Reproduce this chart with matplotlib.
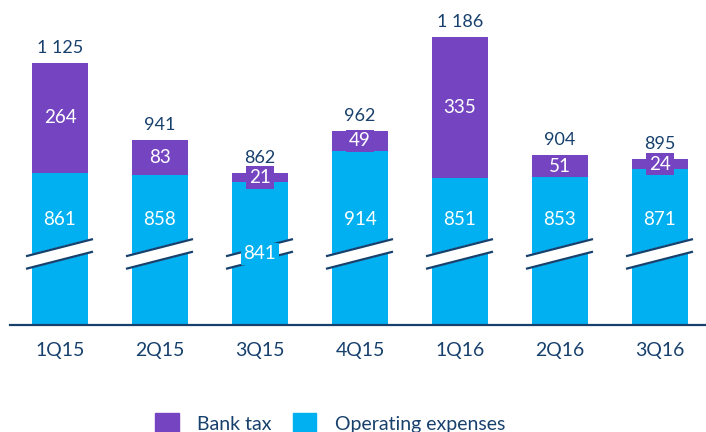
import matplotlib.pyplot as plt
import matplotlib.patches as mpatches
import numpy as np

# quarterly costs, stacked: operating expenses + bank tax
quarters = ["1Q15", "2Q15", "3Q15", "4Q15", "1Q16", "2Q16", "3Q16"]
opex = [861, 858, 841, 914, 851, 853, 871]
bank_tax = [264, 83, 21, 49, 335, 51, 24]
totals = [1125, 941, 862, 962, 1186, 904, 895]

purple = "#7545C1"
cyan = "#00B0F0"
navy = "#17406D"

plt.rcParams["font.family"] = ["Lato", "DejaVu Sans"]

fig = plt.figure(figsize=(7.06, 4.32), dpi=100)
ax = fig.add_axes([0, 107 / 432, 1, 325 / 432])

x = np.arange(len(quarters))
w = 0.56
ax.bar(x, opex, w, color=cyan, zorder=2)
ax.bar(x, bank_tax, w, bottom=opex, color=purple, zorder=2)

# axis is cut (starts at 500), break marks drawn on each bar
y0 = 500
ax.set_xlim(-0.6, 6.46)
ax.set_ylim(y0, y0 + 325 / 0.42)

brk_y, brk_gap, brk_slope = 669.5, 30, 61
for i in x:
    xs = np.array([i - 0.34, i + 0.33])
    up = brk_y + brk_gap / 2 + brk_slope * (xs - i)
    lo = brk_y - brk_gap / 2 + brk_slope * (xs - i)
    ax.fill([xs[0], xs[1], xs[1], xs[0]], [up[0], up[1], lo[1], lo[0]],
            color="white", zorder=3, clip_on=False)
    ax.plot(xs, up, color=navy, lw=1.6, zorder=4, solid_capstyle="butt")
    ax.plot(xs, lo, color=navy, lw=1.6, zorder=4, solid_capstyle="butt")

op_label_y = 750
for i in x:
    # opex label; when too close to the top it sits on the break
    ly = op_label_y if opex[i] - op_label_y > 95 else brk_y
    ax.text(i, ly, str(opex[i]), ha="center", va="center", color="white",
            fontsize=13.5, zorder=6,
            bbox=dict(boxstyle="square,pad=0.12", fc=cyan, ec="none"))
    ax.text(i, opex[i] + bank_tax[i] / 2, str(bank_tax[i]), ha="center",
            va="center", color="white", fontsize=13.5, zorder=6,
            bbox=dict(boxstyle="square,pad=0.15", fc=purple, ec="none"))
    ax.annotate(f"{totals[i]:,}".replace(",", " "), (i, totals[i]),
                xytext=(0, 5), textcoords="offset points", ha="center",
                va="bottom", color=navy, fontsize=13)

for s in ["top", "left", "right"]:
    ax.spines[s].set_visible(False)
ax.spines["bottom"].set_color(navy)
ax.spines["bottom"].set_linewidth(1.6)
ax.spines["bottom"].set_bounds(-0.5, 6.46)
ax.spines["bottom"].set_zorder(5)
ax.set_yticks([])
ax.set_xticks(x)
ax.set_xticklabels(quarters, fontsize=14, color=navy)
ax.tick_params(axis="x", length=0, pad=12)

handles = [mpatches.Patch(color=purple, label="Bank tax"),
           mpatches.Patch(color=cyan, label="Operating expenses")]
fig.legend(handles=handles, loc="center", bbox_to_anchor=(0.468, 1 - 423 / 432),
           ncol=2, frameon=False, fontsize=14, handlelength=1.2,
           handleheight=1.2, handletextpad=0.95, columnspacing=1.1,
           borderpad=0, labelcolor=navy)

fig.savefig("out.png", dpi=100)
